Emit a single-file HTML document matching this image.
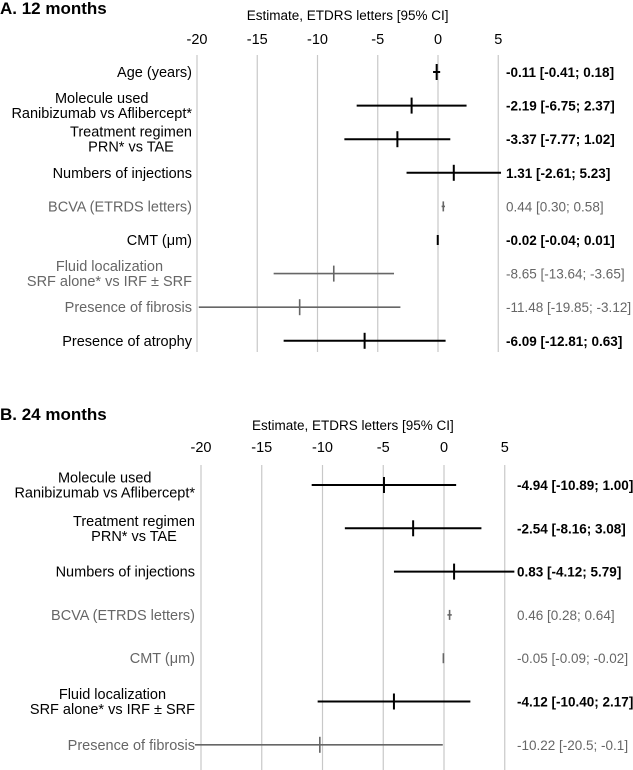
<!DOCTYPE html>
<html><head><meta charset="utf-8"><style>
body{margin:0;background:#fff;}
svg{display:block;font-family:"Liberation Sans",Arial,sans-serif;}
</style></head><body>
<svg id="chart" width="633" height="770"></svg>
<script>
const ticks=[-20,-15,-10,-5,0,5];
const labelsA=[["Age (years)"],["Molecule used","Ranibizumab vs Aflibercept*"],["Treatment regimen","PRN* vs TAE"],["Numbers of injections"],["BCVA (ETRDS letters)"],["CMT (\u03bcm)"],["Fluid localization","SRF alone* vs IRF \u00b1 SRF"],["Presence of fibrosis"],["Presence of atrophy"]];
const estA=[-0.11,-2.19,-3.37,1.31,0.44,-0.02,-8.65,-11.48,-6.09];
const lowA=[-0.41,-6.75,-7.77,-2.61,0.30,-0.04,-13.64,-19.85,-12.81];
const highA=[0.18,2.37,1.02,5.23,0.58,0.01,-3.65,-3.12,0.63];
const textA=["-0.11 [-0.41; 0.18]","-2.19 [-6.75; 2.37]","-3.37 [-7.77; 1.02]","1.31 [-2.61; 5.23]","0.44 [0.30; 0.58]","-0.02 [-0.04; 0.01]","-8.65 [-13.64; -3.65]","-11.48 [-19.85; -3.12]","-6.09 [-12.81; 0.63]"];
const sigA=[1,1,1,1,0,1,0,0,1];
const labelsB=[["Molecule used","Ranibizumab vs Aflibercept*"],["Treatment regimen","PRN* vs TAE"],["Numbers of injections"],["BCVA (ETRDS letters)"],["CMT (\u03bcm)"],["Fluid localization","SRF alone* vs IRF \u00b1 SRF"],["Presence of fibrosis"]];
const estB=[-4.94,-2.54,0.83,0.46,-0.05,-4.12,-10.22];
const lowB=[-10.89,-8.16,-4.12,0.28,-0.09,-10.40,-20.5];
const highB=[1.00,3.08,5.79,0.64,-0.02,2.17,-0.1];
const textB=["-4.94 [-10.89; 1.00]","-2.54 [-8.16; 3.08]","0.83 [-4.12; 5.79]","0.46 [0.28; 0.64]","-0.05 [-0.09; -0.02]","-4.12 [-10.40; 2.17]","-10.22 [-20.5; -0.1]"];
const sigB=[1,1,1,0,0,1,0];

const svg=document.getElementById('chart');
const NS='http://www.w3.org/2000/svg';
function mk(tag,attrs,parent){const e=document.createElementNS(NS,tag);for(const k in attrs)e.setAttribute(k,attrs[k]);(parent||svg).appendChild(e);return e;}

function panel(p){
  const g=mk('g',{});
  
  
  const x=v=>p.x0+v*p.k;
  const t=mk('text',{x:0,y:p.titleY,'font-size':17,'font-weight':'bold',fill:'#000'},g);
  t.textContent=p.title;
  
  
  const at=mk('text',{x:x(-7.5),y:p.axisTitleY,'font-size':13.5,'text-anchor':'middle',fill:'#000'},g);
  at.textContent='Estimate, ETDRS letters [95% CI]';
  
  
  ticks.forEach(tv=>{
    const l=mk('line',{x1:x(tv),x2:x(tv),y1:p.gridTop,y2:p.gridBot,stroke:'#c8c8c8','stroke-width':1.2},g);
    
    
    const tl=mk('text',{x:x(tv),y:p.tickY,'font-size':14.5,'text-anchor':'middle',fill:'#000'},g);
    tl.textContent=String(tv);
    
    
  });
  p.est.forEach((e,i)=>{
    const y=p.rowY0+i*p.dy;
    const col=p.sig[i]?'#000':'#666';
    const lab=p.labels[i];
    const tx=mk('text',{x:p.labelRight,y:y-(lab.length-1)*7.5+5,'font-size':14.5,'text-anchor':lab.length>1?'middle':'end',fill:col},g);
    const spans=lab.map((s,j)=>{const ts=mk('tspan',{x:p.labelRight,dy:j?15:0},tx);ts.textContent=s;return ts;});
    if(lab.length>1){
      let w=0;spans.forEach(ts=>{w=Math.max(w,ts.getComputedTextLength());});
      spans.forEach(ts=>ts.setAttribute('x',p.labelRight-w/2));
    }
    
    
    const sw=p.sig[i]?2:1.6;
    const ci=mk('line',{x1:x(p.low[i]),x2:x(p.high[i]),y1:y,y2:y,stroke:col,'stroke-width':sw},g);
    
    
    const h=(p.high[i]-p.low[i])<0.5?5:8;
    const pt=mk('line',{x1:x(e),x2:x(e),y1:y-h,y2:y+h,stroke:col,'stroke-width':sw},g);
    
    
    const vt=mk('text',{x:p.valX,y:y+5,'font-size':13.5,fill:col,'font-weight':p.sig[i]?'bold':'normal'},g);
    vt.textContent=p.text[i];
    
    
  });
}
panel({id:'a-12-months',title:'A. 12 months',titleY:14,axisTitleY:20,tickY:44,gridTop:55,gridBot:352,x0:438,k:12.05,rowY0:72,dy:33.6,labelRight:192,valX:506,labels:labelsA,est:estA,low:lowA,high:highA,text:textA,sig:sigA});
panel({id:'b-24-months',title:'B. 24 months',titleY:420,axisTitleY:430,tickY:452,gridTop:465,gridBot:770,x0:444,k:12.15,rowY0:485,dy:43.3,labelRight:195,valX:517,labels:labelsB,est:estB,low:lowB,high:highB,text:textB,sig:sigB});
</script>
</body></html>
